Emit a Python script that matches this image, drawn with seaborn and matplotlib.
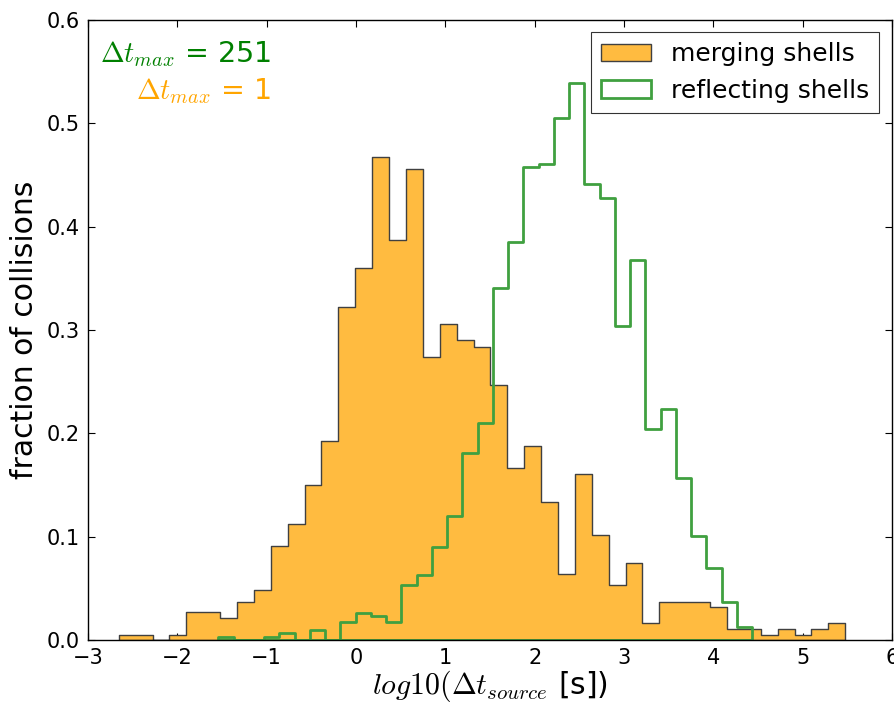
import numpy as np
import pandas as pd
import matplotlib
matplotlib.use("Agg")
import matplotlib.pyplot as plt
import seaborn as sns

# merging shells: 43 bins
merge_range = (-2.656, 5.477)
merge_bins = 43
merge_heights = [0.005, 0.005, 0.0, 0.005, 0.027, 0.027, 0.021, 0.037, 0.048, 0.091,
                 0.112, 0.150, 0.193, 0.322, 0.360, 0.467, 0.387, 0.456, 0.274, 0.306,
                 0.290, 0.284, 0.247, 0.166, 0.188, 0.134, 0.064, 0.161, 0.102, 0.053,
                 0.075, 0.016, 0.037, 0.037, 0.037, 0.032, 0.011, 0.011, 0.005, 0.011,
                 0.005, 0.011, 0.016]

# reflecting shells: 35 bins
refl_range = (-1.540, 4.436)
refl_bins = 35
refl_heights = [0.003, 0.0, 0.0, 0.003, 0.007, 0.0, 0.010, 0.0, 0.017, 0.026,
                0.023, 0.017, 0.053, 0.063, 0.090, 0.120, 0.181, 0.210, 0.341, 0.385,
                0.458, 0.461, 0.505, 0.539, 0.441, 0.428, 0.304, 0.368, 0.204, 0.224,
                0.157, 0.101, 0.070, 0.037, 0.013]

sns.set_style("ticks")
plt.rcParams['font.family'] = ['DejaVu Sans']
plt.rcParams['mathtext.fontset'] = 'cm'
plt.rcParams['text.color'] = 'black'
plt.rcParams['axes.labelcolor'] = 'black'
plt.rcParams['xtick.color'] = 'black'
plt.rcParams['ytick.color'] = 'black'

m_edges = np.linspace(merge_range[0], merge_range[1], merge_bins + 1)
r_edges = np.linspace(refl_range[0], refl_range[1], refl_bins + 1)
df_m = pd.DataFrame({"x": (m_edges[:-1] + m_edges[1:]) / 2, "w": merge_heights})
df_r = pd.DataFrame({"x": (r_edges[:-1] + r_edges[1:]) / 2, "w": refl_heights})

fig = plt.figure(figsize=(8.95, 7.03), dpi=100)
ax = fig.add_axes([0.0983, 0.0896, 0.8983, 0.882])

sns.histplot(data=df_m, x="x", weights="w", bins=merge_bins, binrange=merge_range,
             element="step", fill=True, color="#ffbb40", facecolor="#ffbb40",
             edgecolor="#404040", linewidth=1.0, label="merging shells", ax=ax)
sns.histplot(data=df_r, x="x", weights="w", bins=refl_bins, binrange=refl_range,
             element="step", fill=True, color="#40a040", facecolor="none",
             edgecolor="#40a040", linewidth=2.0, label="reflecting shells", ax=ax)

ax.set_xlim(-3, 6)
ax.set_ylim(0, 0.6)
ax.set_xticks(range(-3, 7))
ax.set_yticks([0.0, 0.1, 0.2, 0.3, 0.4, 0.5, 0.6])
ax.set_yticklabels(["0.0", "0.1", "0.2", "0.3", "0.4", "0.5", "0.6"])
ax.tick_params(direction="in", top=True, right=True, labelsize=15, length=5, width=0.8,
               pad=6)
for s in ax.spines.values():
    s.set_visible(True)
    s.set_color("black")
    s.set_linewidth(1.0)

ax.set_xlabel(r"$log10(\Delta t_{source}$ [s])", fontsize=21.5, labelpad=0)
ax.set_ylabel("fraction of collisions", fontsize=21.5, labelpad=5)

ax.text(0.2276, 0.9327, r"$\Delta t_{max}$ = 251", color="green", fontsize=20.5,
        ha="right", va="baseline", transform=ax.transAxes)
ax.text(0.2276, 0.872, r"$\Delta t_{max}$ = 1", color="orange", fontsize=20.5,
        ha="right", va="baseline", transform=ax.transAxes)

leg = ax.legend(loc="upper right", fontsize=18, frameon=True, fancybox=False,
                borderaxespad=0.5, handlelength=2.0)
leg.get_frame().set_edgecolor("black")
leg.get_frame().set_linewidth(0.8)

fig.savefig("out.png", dpi=100)
